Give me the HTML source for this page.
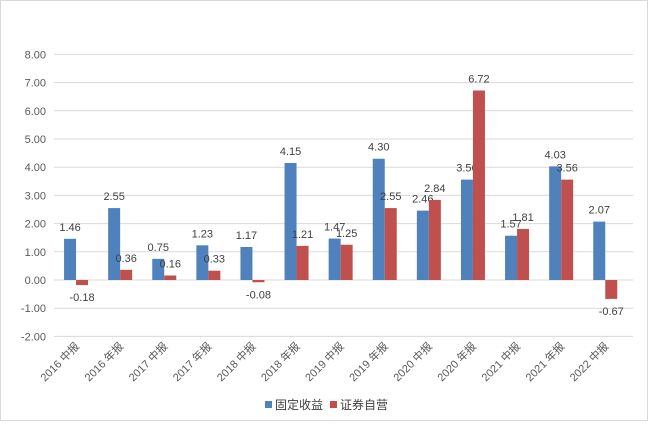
<!DOCTYPE html>
<html><head><meta charset="utf-8"><style>
body{margin:0;background:#fff}
svg{font-family:"Liberation Sans","Noto Sans CJK SC",sans-serif}
</style></head><body>
<svg id="c" width="648" height="421">
<rect x="0.5" y="0.5" width="647" height="420" fill="#fff" stroke="#d9d9d9"/>
</svg>
<script>
const categories=["2016中报","2016年报","2017中报","2017年报","2018中报","2018年报","2019中报","2019年报","2020中报","2020年报","2021中报","2021年报","2022中报"];
const fixedIncome=[1.46,2.55,0.75,1.23,1.17,4.15,1.47,4.30,2.46,3.56,1.57,4.03,2.07];
const proprietary=[-0.18,0.36,0.16,0.33,-0.08,1.21,1.25,2.55,2.84,6.72,1.81,3.56,-0.67];
const ticks=[8,7,6,5,4,3,2,1,0,-1,-2];
const svg=document.getElementById('c');const NS='http://www.w3.org/2000/svg';
const L=54,R=633,zero=280,unit=28.2;
const y=v=>zero-v*unit;
const step=44.1;const cx=i=>L+step*(i+0.5);
function mk(t,a,p){const e=document.createElementNS(NS,t);for(const k in a)e.setAttribute(k,a[k]);(p||svg).appendChild(e);return e;}
ticks.forEach(t=>{
 const g=mk('line',{x1:L,x2:R,y1:y(t),y2:y(t),stroke:'#d9d9d9'});
 
 
 const tx=mk('text',{x:46,y:y(t)+4,'text-anchor':'end','font-size':11,fill:'#595959'});
 tx.textContent=t.toFixed(2);
 
 
});
categories.forEach((c,i)=>{
 const bw=12;
 [[fixedIncome[i],'#4f81bd',-bw,'bar-fixed-income'],[proprietary[i],'#c0504d',0,'bar-proprietary']].forEach(([v,col,off,nm])=>{
  const x=cx(i)+off;
  const r=mk('rect',{x:x,y:Math.min(y(v),zero),width:bw,height:Math.abs(v*unit),fill:col});
  
  
  const ly=v>=0?y(v)-8:y(v)+16;
  const t=mk('text',{x:x+bw/2,y:ly,'text-anchor':'middle','font-size':11,fill:'#404040'});
  t.textContent=v.toFixed(2);
  
  
 });
 const lx=cx(i)+4,ly=347;
 const t=mk('text',{x:lx,y:ly,'text-anchor':'end','font-size':11,fill:'#595959',transform:`rotate(-45 ${lx} ${ly})`});
 t.textContent=c.slice(0,4)+' '+c.slice(4);
 
 
});
const lg=mk('g',{});


[['固定收益','#4f81bd',265],['证券自营','#c0504d',330]].forEach(([n,c,x])=>{
 const s=mk('rect',{x:x,y:401,width:7,height:7,fill:c},lg);
 
 
 const t=mk('text',{x:x+10,y:409,'font-size':12,fill:'#404040'},lg);
 t.textContent=n;
 
 
});
</script>
</body></html>
